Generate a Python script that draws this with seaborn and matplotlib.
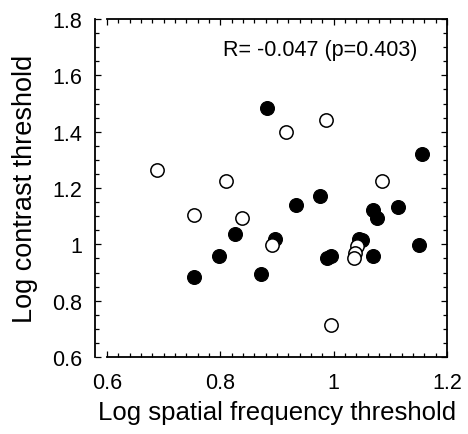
import matplotlib
matplotlib.use("Agg")
import matplotlib.pyplot as plt
import numpy as np
import seaborn as sns
from matplotlib.ticker import MultipleLocator, FixedLocator

# filled symbols
filled_x = [0.882, 1.156, 0.933, 0.976, 1.070, 1.076, 1.114, 0.825, 0.896,
            1.045, 1.050, 0.797, 0.989, 0.996, 1.070, 1.151, 0.754, 0.872]
filled_y = [1.483, 1.322, 1.141, 1.170, 1.123, 1.093, 1.131, 1.036, 1.019,
            1.019, 1.015, 0.960, 0.950, 0.960, 0.960, 0.998, 0.885, 0.894]

# open symbols
open_x = [0.986, 0.915, 0.688, 0.810, 1.085, 0.754, 0.839, 0.891, 1.042,
          1.038, 1.036, 0.995]
open_y = [1.442, 1.398, 1.264, 1.226, 1.226, 1.104, 1.093, 0.998, 0.995,
          0.969, 0.950, 0.714]

x_ticks = [0.6, 0.8, 1.0, 1.2]
x_tick_labels = ["0.6", "0.8", "1", "1.2"]
y_ticks = [0.6, 0.8, 1.0, 1.2, 1.4, 1.6, 1.8]
y_tick_labels = ["0.6", "0.8", "1", "1.2", "1.4", "1.6", "1.8"]

annotation = "R= -0.047 (p=0.403)"

sns.set_style("ticks")
plt.rcParams['font.family'] = ['Liberation Sans', 'DejaVu Sans']
plt.rcParams.update({"text.color": "black", "axes.labelcolor": "black",
                     "xtick.color": "black", "ytick.color": "black"})

dpi = 100
fig = plt.figure(figsize=(4.68, 4.35), dpi=dpi)
ax = fig.add_axes([107 / 468, 77 / 435, 340 / 468, 338 / 435])

sns.scatterplot(x=filled_x, y=filled_y, ax=ax, color="black", edgecolor="black",
                s=100, linewidth=0.8, zorder=3)
sns.scatterplot(x=open_x, y=open_y, ax=ax, color="white", edgecolor="black",
                s=92, linewidth=1.1, zorder=4)

ax.set_xlim(0.6, 1.2)
ax.set_ylim(0.6, 1.8)
ax.xaxis.set_major_locator(FixedLocator(x_ticks))
ax.set_xticklabels(x_tick_labels)
ax.yaxis.set_major_locator(FixedLocator(y_ticks))
ax.set_yticklabels(y_tick_labels)
ax.xaxis.set_minor_locator(MultipleLocator(0.02))
ax.yaxis.set_minor_locator(MultipleLocator(0.05))

for side in ["left", "right", "top", "bottom"]:
    ax.spines[side].set_visible(True)
    ax.spines[side].set_linewidth(1.3)
    ax.spines[side].set_color("black")
ax.spines["left"].set_position(("outward", 12 * 72 / dpi))

ax.tick_params(which="both", direction="in", top=True, right=True,
               width=0.9, color="black", labelcolor="black")
ax.tick_params(which="major", length=4)
ax.tick_params(which="minor", length=3)
ax.tick_params(axis="x", which="major", pad=11, labelsize=15.5)
ax.tick_params(axis="y", which="major", pad=9, labelsize=15.5)

ax.set_xlabel("Log spatial frequency threshold", fontsize=18.5, labelpad=5)
ax.set_ylabel("Log contrast threshold", fontsize=19.5, labelpad=10)

ax.text(1.147, 1.69, annotation, fontsize=15.5, ha="right", va="center")

fig.savefig("out.png", dpi=dpi)
